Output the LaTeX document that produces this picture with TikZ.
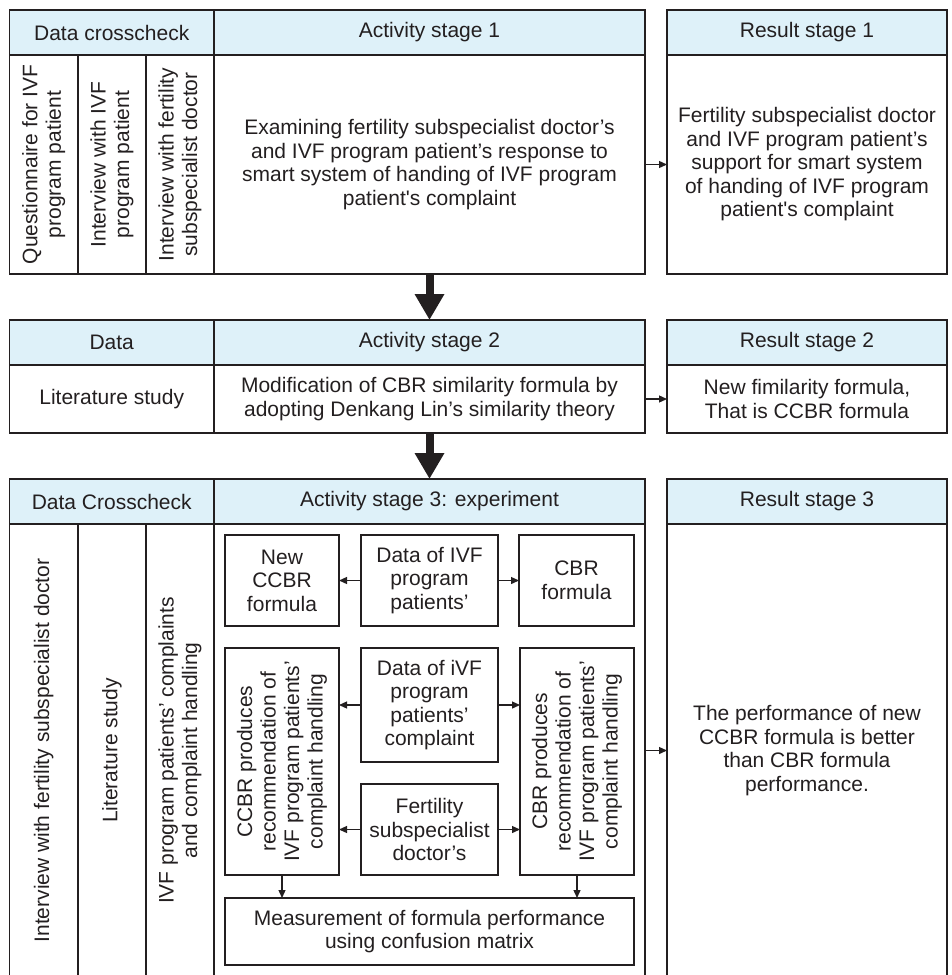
\documentclass[tikz,border=0pt]{standalone}
\usepackage{fontspec}
\newfontfamily\lsans{Liberation Sans}
\usetikzlibrary{arrows.meta}
\definecolor{hb}{RGB}{222,241,249}
\definecolor{lc}{RGB}{35,31,32}
\tikzset{
  cell/.style={draw=lc, line width=1.5pt, inner sep=0pt, outer sep=0pt, align=center, text=lc,
    font=\lsans\fontsize{21}{23.5}\selectfont},
  head/.style={cell, fill=hb},
  ibox/.style={cell, line width=1.3pt},
  arr/.style={draw=lc, line width=1.3pt, -{Triangle[length=8pt,width=7pt]}},
  bigarr/.style={draw=lc, line width=8pt, -{Triangle[length=26pt,width=28pt]}}
}
\begin{document}
\begin{tikzpicture}[x=1pt,y=-1pt]
\useasboundingbox (0,0) rectangle (951,975);
% ---------- Stage 1 ----------
\node[head, minimum width=204.5pt, minimum height=45pt] (h1d) at (111.75,32.5) {Data crosscheck};
\node[head, minimum width=431pt, minimum height=45pt] (h1a) at (429.5,32.5) {Activity stage 1};
\node[head, minimum width=280pt, minimum height=45pt] (h1r) at (807,32.5) {Result stage 1};
\node[cell, rotate=90, minimum width=219pt, minimum height=68.5pt] (d1a) at (43.75,164.5) {Questionnaire for IVF\\program patient};
\node[cell, rotate=90, minimum width=219pt, minimum height=68pt] (d1b) at (112,164.5) {Interview with IVF\\program patient};
\node[cell, rotate=90, minimum width=219pt, minimum height=68pt] (d1c) at (180,164.5) {Interview with fertility\\subspecialist doctor};
\node[cell, minimum width=431pt, minimum height=219pt] (a1) at (429.5,164.5) {Examining fertility subspecialist doctor’s\\and IVF program patient’s response to\\smart system of handing of IVF program\\patient's complaint};
\node[cell, minimum width=280pt, minimum height=219pt] (r1) at (807,164.5) {Fertility subspecialist doctor\\and IVF program patient’s\\support for smart system\\of handing of IVF program\\patient's complaint};
\draw[arr] (a1.east) -- (r1.west);
% ---------- Stage 2 ----------
\node[head, minimum width=204.5pt, minimum height=45pt] (h2d) at (111.75,342.5) {Data};
\node[head, minimum width=431pt, minimum height=45pt] (h2a) at (429.5,342.5) {Activity stage 2};
\node[head, minimum width=280pt, minimum height=45pt] (h2r) at (807,342.5) {Result stage 2};
\node[cell, minimum width=204.5pt, minimum height=68pt] (d2) at (111.75,399) {Literature study};
\node[cell, minimum width=431pt, minimum height=68pt] (a2) at (429.5,399) {Modification of CBR similarity formula by\\adopting Denkang Lin’s similarity theory};
\node[cell, minimum width=280pt, minimum height=68pt] (r2) at (807,399) {New fimilarity formula,\\That is CCBR formula};
\draw[arr] (a2.east) -- (r2.west);
\draw[bigarr] (a1.south) -- (h2a.north);
% ---------- Stage 3 ----------
\node[head, minimum width=204.5pt, minimum height=45pt] (h3d) at (111.75,501.5) {Data Crosscheck};
\node[head, minimum width=431pt, minimum height=45pt] (h3a) at (429.5,501.5) {Activity stage 3: experiment};
\node[head, minimum width=280pt, minimum height=45pt] (h3r) at (807,501.5) {Result stage 3};
\node[cell, rotate=90, minimum width=453pt, minimum height=68.5pt] (d3a) at (43.75,750.5) {Interview with fertility subspecialist doctor};
\node[cell, rotate=90, minimum width=453pt, minimum height=68pt] (d3b) at (112,750.5) {Literature study};
\node[cell, rotate=90, minimum width=453pt, minimum height=68pt] (d3c) at (180,750.5) {IVF program patients’ complaints\\and complaint handling};
\node[cell, minimum width=431pt, minimum height=453pt] (a3) at (429.5,750.5) {};
\node[cell, minimum width=280pt, minimum height=453pt] (r3) at (807,750.5) {The performance of new\\CCBR formula is better\\than CBR formula\\performance.};
\draw[arr] (a3.east) -- (r3.west);
\draw[bigarr] (a2.south) -- (h3a.north);
% inner boxes
\node[ibox, minimum width=114pt, minimum height=91pt] (newccbr) at (282,580.5) {New\\CCBR\\formula};
\node[ibox, minimum width=137pt, minimum height=91pt] (data1) at (429.5,580.5) {Data of IVF\\program\\patients’};
\node[ibox, minimum width=115pt, minimum height=91pt] (cbr) at (576.5,580.5) {CBR\\formula};
\node[ibox, rotate=90, minimum width=227pt, minimum height=114pt] (ccbrL) at (282,761.5) {CCBR produces\\recommendation of\\IVF program patients’\\complaint handling};
\node[ibox, minimum width=137pt, minimum height=114pt] (data2) at (429.5,705) {Data of iVF\\program\\patients’\\complaint};
\node[ibox, minimum width=137pt, minimum height=91pt] (fert) at (429.5,829.5) {Fertility\\subspecialist\\doctor’s};
\node[ibox, rotate=90, minimum width=227pt, minimum height=114pt] (cbrR) at (577,761.5) {CBR produces\\recommendation of\\IVF program patients’\\complaint handling};
\node[ibox, minimum width=409pt, minimum height=67pt] (meas) at (429.5,931.5) {Measurement of formula performance\\using confusion matrix};
\draw[arr] (data1.west) -- (newccbr.east);
\draw[arr] (data1.east) -- (cbr.west);
\draw[arr] (data2.west) -- (data2.west -| ccbrL.south);
\draw[arr] (data2.east) -- (data2.east -| cbrR.north);
\draw[arr] (fert.west) -- (fert.west -| ccbrL.south);
\draw[arr] (fert.east) -- (fert.east -| cbrR.north);
\draw[arr] (ccbrL.west) -- (ccbrL.west |- meas.north);
\draw[arr] (cbrR.west) -- (cbrR.west |- meas.north);
\end{tikzpicture}
\end{document}
